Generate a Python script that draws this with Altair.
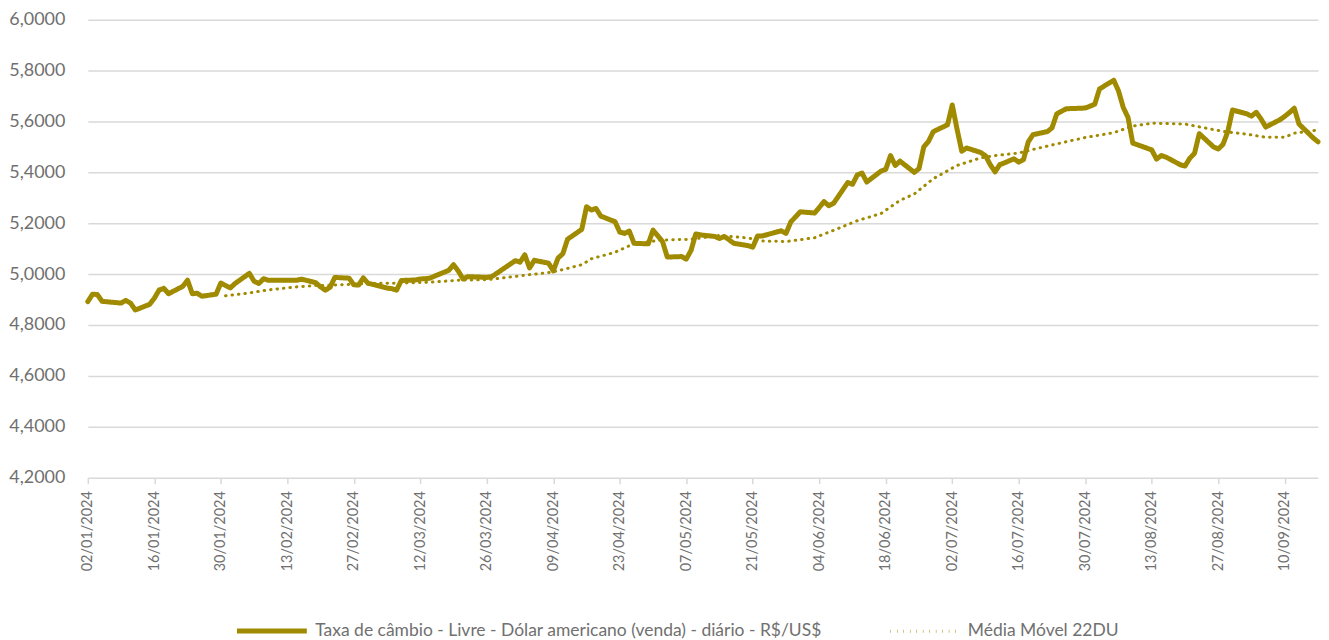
import altair as alt
import pandas as pd

# Daily series (business days)
daily_dates = [
    "2024-01-02", "2024-01-03", "2024-01-04", "2024-01-05", "2024-01-08", "2024-01-09", "2024-01-10",
    "2024-01-11", "2024-01-12", "2024-01-15", "2024-01-16", "2024-01-17", "2024-01-18", "2024-01-19",
    "2024-01-22", "2024-01-23", "2024-01-24", "2024-01-25", "2024-01-26", "2024-01-29", "2024-01-30",
    "2024-01-31", "2024-02-01", "2024-02-02", "2024-02-05", "2024-02-06", "2024-02-07", "2024-02-08",
    "2024-02-09", "2024-02-14", "2024-02-15", "2024-02-16", "2024-02-19", "2024-02-20", "2024-02-21",
    "2024-02-22", "2024-02-23", "2024-02-26", "2024-02-27", "2024-02-28", "2024-02-29", "2024-03-01",
    "2024-03-04", "2024-03-05", "2024-03-06", "2024-03-07", "2024-03-08", "2024-03-11", "2024-03-12",
    "2024-03-13", "2024-03-14", "2024-03-15", "2024-03-18", "2024-03-19", "2024-03-20", "2024-03-21",
    "2024-03-22", "2024-03-25", "2024-03-26", "2024-03-27", "2024-03-28", "2024-04-01", "2024-04-02",
    "2024-04-03", "2024-04-04", "2024-04-05", "2024-04-08", "2024-04-09", "2024-04-10", "2024-04-11",
    "2024-04-12", "2024-04-15", "2024-04-16", "2024-04-17", "2024-04-18", "2024-04-19", "2024-04-22",
    "2024-04-23", "2024-04-24", "2024-04-25", "2024-04-26", "2024-04-29", "2024-04-30", "2024-05-02",
    "2024-05-03", "2024-05-06", "2024-05-07", "2024-05-08", "2024-05-09", "2024-05-10", "2024-05-13",
    "2024-05-14", "2024-05-15", "2024-05-16", "2024-05-17", "2024-05-20", "2024-05-21", "2024-05-22",
    "2024-05-23", "2024-05-24", "2024-05-27", "2024-05-28", "2024-05-29", "2024-05-31", "2024-06-03",
    "2024-06-04", "2024-06-05", "2024-06-06", "2024-06-07", "2024-06-10", "2024-06-11", "2024-06-12",
    "2024-06-13", "2024-06-14", "2024-06-17", "2024-06-18", "2024-06-19", "2024-06-20", "2024-06-21",
    "2024-06-24", "2024-06-25", "2024-06-26", "2024-06-27", "2024-06-28", "2024-07-01", "2024-07-02",
    "2024-07-03", "2024-07-04", "2024-07-05", "2024-07-08", "2024-07-09", "2024-07-10", "2024-07-11",
    "2024-07-12", "2024-07-15", "2024-07-16", "2024-07-17", "2024-07-18", "2024-07-19", "2024-07-22",
    "2024-07-23", "2024-07-24", "2024-07-25", "2024-07-26", "2024-07-29", "2024-07-30", "2024-07-31",
    "2024-08-01", "2024-08-02", "2024-08-05", "2024-08-06", "2024-08-07", "2024-08-08", "2024-08-09",
    "2024-08-12", "2024-08-13", "2024-08-14", "2024-08-15", "2024-08-16", "2024-08-19", "2024-08-20",
    "2024-08-21", "2024-08-22", "2024-08-23", "2024-08-26", "2024-08-27", "2024-08-28", "2024-08-29",
    "2024-08-30", "2024-09-02", "2024-09-03", "2024-09-04", "2024-09-05", "2024-09-06", "2024-09-09",
    "2024-09-10", "2024-09-11", "2024-09-12", "2024-09-13", "2024-09-16", "2024-09-17",
]
daily_values = [
    4.892, 4.921, 4.920, 4.893, 4.888, 4.886, 4.897,
    4.886, 4.859, 4.881, 4.905, 4.937, 4.944, 4.923,
    4.952, 4.976, 4.923, 4.925, 4.913, 4.921, 4.965,
    4.955, 4.946, 4.963, 5.003, 4.972, 4.963, 4.982,
    4.976, 4.976, 4.976, 4.980, 4.966, 4.950, 4.937,
    4.948, 4.987, 4.984, 4.958, 4.957, 4.985, 4.964,
    4.950, 4.945, 4.943, 4.937, 4.975, 4.977, 4.981,
    4.982, 4.984, 4.992, 5.015, 5.037, 5.012, 4.981,
    4.990, 4.988, 4.987, 4.990, 5.002, 5.053, 5.047,
    5.076, 5.024, 5.054, 5.043, 5.013, 5.063, 5.080,
    5.137, 5.176, 5.265, 5.252, 5.258, 5.228, 5.206,
    5.165, 5.160, 5.169, 5.121, 5.119, 5.173, 5.128,
    5.067, 5.069, 5.059, 5.093, 5.158, 5.154, 5.148,
    5.140, 5.148, 5.135, 5.121, 5.112, 5.106, 5.150,
    5.150, 5.155, 5.170, 5.160, 5.205, 5.245, 5.240,
    5.262, 5.285, 5.269, 5.278, 5.360, 5.353, 5.390,
    5.397, 5.362, 5.405, 5.412, 5.466, 5.427, 5.444,
    5.400, 5.415, 5.500, 5.522, 5.560, 5.587, 5.665,
    5.570, 5.483, 5.496, 5.478, 5.465, 5.430, 5.402,
    5.430, 5.453, 5.440, 5.450, 5.520, 5.548, 5.560,
    5.575, 5.630, 5.640, 5.650, 5.652, 5.653, 5.660,
    5.668, 5.728, 5.762, 5.720, 5.655, 5.616, 5.515,
    5.495, 5.488, 5.452, 5.466, 5.460, 5.430, 5.425,
    5.455, 5.475, 5.552, 5.500, 5.492, 5.510, 5.560,
    5.645, 5.630, 5.621, 5.636, 5.610, 5.578, 5.607,
    5.620, 5.635, 5.652, 5.590, 5.535, 5.520,
]

# 22-day moving average
ma_dates = [
    "2024-01-31", "2024-02-05", "2024-02-09", "2024-02-15", "2024-02-19", "2024-02-23", "2024-03-01",
    "2024-03-08", "2024-03-14", "2024-03-20", "2024-03-26", "2024-03-28", "2024-04-04", "2024-04-08",
    "2024-04-10", "2024-04-15", "2024-04-17", "2024-04-22", "2024-04-26", "2024-05-02", "2024-05-08",
    "2024-05-14", "2024-05-20", "2024-05-23", "2024-05-28", "2024-06-03", "2024-06-07", "2024-06-12",
    "2024-06-17", "2024-06-21", "2024-06-24", "2024-06-28", "2024-07-03", "2024-07-08", "2024-07-11",
    "2024-07-16", "2024-07-19", "2024-07-24", "2024-07-30", "2024-08-05", "2024-08-09", "2024-08-13",
    "2024-08-20", "2024-08-26", "2024-08-28", "2024-09-02", "2024-09-06", "2024-09-10", "2024-09-12",
    "2024-09-16", "2024-09-17",
]
ma_values = [
    4.915, 4.926, 4.938, 4.950, 4.955, 4.957, 4.963,
    4.965, 4.968, 4.976, 4.978, 4.982, 4.998, 5.006,
    5.013, 5.037, 5.060, 5.086, 5.120, 5.134, 5.137,
    5.152, 5.142, 5.130, 5.128, 5.143, 5.172, 5.210,
    5.238, 5.290, 5.315, 5.375, 5.427, 5.457, 5.466,
    5.476, 5.490, 5.512, 5.537, 5.556, 5.582, 5.593,
    5.590, 5.568, 5.561, 5.550, 5.538, 5.538, 5.554,
    5.564, 5.567,
]

series_names = [
    "Taxa de câmbio - Livre - Dólar americano (venda) - diário - R$/US$",
    "Média Móvel 22DU",
]

x_tick_labels = [
    "02/01/2024", "16/01/2024", "30/01/2024", "13/02/2024", "27/02/2024", "12/03/2024",
    "26/03/2024", "09/04/2024", "23/04/2024", "07/05/2024", "21/05/2024", "04/06/2024",
    "18/06/2024", "02/07/2024", "16/07/2024", "30/07/2024", "13/08/2024", "27/08/2024",
    "10/09/2024",
]
y_ticks = [4.2, 4.4, 4.6, 4.8, 5.0, 5.2, 5.4, 5.6, 5.8, 6.0]
x_domain = ["02/01/2024", "17/09/2024"]

GOLD = "#A08A00"
GRID = "#D9D9D9"
TXT = "#707070"
FONT = "Lato"


def to_dt(lbl):
    d, m, y = lbl.split("/")
    return alt.DateTime(year=int(y), month=int(m), date=int(d))


df = pd.DataFrame({
    "date": [d + "T00:00:00" for d in daily_dates] + [d + "T00:00:00" for d in ma_dates],
    "value": daily_values + ma_values,
    "series": [series_names[0]] * len(daily_dates) + [series_names[1]] * len(ma_dates),
})

legend = alt.Legend(
    orient="none", legendX=147, legendY=575, direction="horizontal", title=None,
    symbolType="stroke", symbolSize=4900, labelLimit=800, labelFont=FONT,
    labelFontSize=17.5, labelColor=TXT, columnPadding=62, labelOffset=6,
)

chart = alt.Chart(df).mark_line(strokeCap="round", strokeJoin="round").encode(
    x=alt.X(
        "date:T",
        scale=alt.Scale(domain=[to_dt(x_domain[0]), to_dt(x_domain[1])]),
        axis=alt.Axis(
            values=[to_dt(l) for l in x_tick_labels], format="%d/%m/%Y", labelAngle=-90,
            labelAlign="right", labelBaseline="middle", title=None, grid=False, domain=False,
            ticks=True, tickColor=GRID, tickSize=6, tickWidth=1.5, labelColor=TXT, labelFont=FONT,
            labelFontSize=14.5, labelPadding=7, labelOverlap=False,
        ),
    ),
    y=alt.Y(
        "value:Q",
        scale=alt.Scale(domain=[4.2, 6.0], nice=False, zero=False),
        axis=alt.Axis(
            values=y_ticks, labelExpr="replace(format(datum.value, '.4f'), '.', ',')",
            title=None, domain=False, ticks=False, gridColor=GRID, gridWidth=1.5,
            labelPadding=23, labelFont=FONT, labelFontSize=18, labelColor=TXT,
        ),
    ),
    color=alt.Color("series:N", scale=alt.Scale(domain=series_names, range=[GOLD, GOLD]), legend=legend),
    strokeDash=alt.StrokeDash("series:N", scale=alt.Scale(domain=series_names, range=[[1, 0], [0.5, 6]]), legend=legend),
    strokeWidth=alt.StrokeWidth("series:N", scale=alt.Scale(type="ordinal", domain=series_names, range=[5, 3]), legend=legend),
).properties(
    width=1233, height=459, padding={"left": 0, "top": 2, "right": 0, "bottom": 0},
    background="white",
).configure_view(stroke=None)

chart.save("out.html", embed_options={"renderer": "svg", "actions": False})
